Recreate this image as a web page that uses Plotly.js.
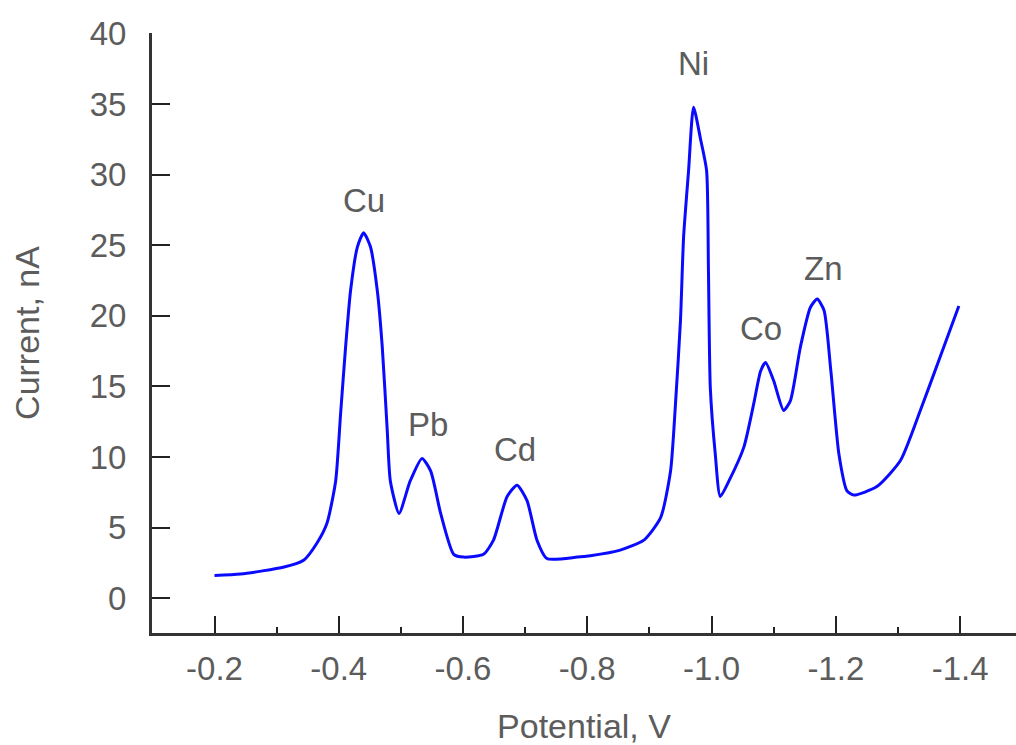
<!DOCTYPE html>
<html>
<head>
<meta charset="utf-8">
<script src="https://cdn.plot.ly/plotly-3.0.1.min.js"></script>
<style>html,body{margin:0;padding:0;background:#fff;}#chart{width:1016px;height:745px;}</style>
</head>
<body>
<div id="chart"></div>
<script>
// Potential (V) and current (nA)
const potential = [-0.200, -0.242, -0.312, -0.344, -0.365, -0.381, -0.395, -0.403, -0.411, -0.419, -0.430, -0.440,
  -0.451, -0.462, -0.470, -0.478, -0.483, -0.497, -0.515, -0.534, -0.548, -0.564, -0.585, -0.601, -0.633, -0.649,
  -0.671, -0.687, -0.703, -0.719, -0.735, -0.784, -0.805, -0.853, -0.891, -0.918, -0.934, -0.942, -0.950, -0.955,
  -0.963, -0.971, -0.982, -0.992, -0.995, -0.998, -1.006, -1.014, -1.028, -1.052, -1.068, -1.079, -1.087, -1.100,
  -1.116, -1.127, -1.143, -1.159, -1.170, -1.181, -1.192, -1.205, -1.218, -1.229, -1.266, -1.304, -1.336, -1.368, -1.398];
const current = [1.6, 1.7, 2.2, 2.7, 3.9, 5.3, 8.3, 13.1, 17.8, 21.8, 24.9, 25.9,
  24.9, 21.8, 17.8, 11.9, 8.3, 6.0, 8.3, 9.9, 9.0, 6.0, 3.1, 2.9, 3.1, 4.1,
  7.2, 8.0, 6.9, 4.1, 2.8, 2.9, 3.0, 3.4, 4.1, 5.7, 9.0, 13.8, 19.7, 25.6,
  30.3, 34.8, 32.6, 30.3, 23.2, 14.9, 10.2, 7.2, 8.3, 10.7, 13.8, 16.1, 16.7, 15.4,
  13.3, 14.0, 17.8, 20.6, 21.2, 20.4, 16.1, 10.2, 7.6, 7.3, 7.9, 9.75, 13.3, 17.1, 20.7];

const peakLabels = ['Cu', 'Pb', 'Cd', 'Ni', 'Co', 'Zn'];
const peakX = [-0.441, -0.544, -0.684, -0.971, -1.079, -1.180];
const peakY = [28.2, 12.3, 10.5, 37.9, 19.1, 23.35];

const xTicks = [-0.2, -0.4, -0.6, -0.8, -1.0, -1.2, -1.4];
const xTickText = ['-0.2', '-0.4', '-0.6', '-0.8', '-1.0', '-1.2', '-1.4'];
const yTicks = [0, 5, 10, 15, 20, 25, 30, 35, 40];

const FONT = 'Liberation Sans, Arial, sans-serif';
const GREY = '#5c5c5c';

const trace = {
  x: potential, y: current, type: 'scatter', mode: 'lines',
  line: {color: '#0a0aff', width: 3, shape: 'spline', smoothing: 0.6},
  hoverinfo: 'skip'
};

const annotations = peakLabels.map((t, i) => ({
  x: peakX[i], y: peakY[i], xref: 'x', yref: 'y', text: t, showarrow: false,
  font: {family: FONT, size: 33, color: GREY}
}));

const layout = {
  width: 1016, height: 745,
  margin: {l: 152, r: 0, t: 33, b: 112},
  paper_bgcolor: '#fff', plot_bgcolor: '#fff',
  showlegend: false,
  font: {family: FONT, color: GREY},
  xaxis: {
    range: [-0.0994, -1.490],
    tickvals: xTicks, ticktext: xTickText,
    ticks: 'inside', ticklen: 17, tickwidth: 2, tickcolor: '#222',
    minor: {ticks: 'inside', ticklen: 6, tickwidth: 2, tickcolor: '#222', dtick: 0.1, tick0: -0.1},
    showline: true, linecolor: '#333', linewidth: 3,
    showgrid: false, zeroline: false,
    tickfont: {family: FONT, size: 33, color: GREY},
    ticklabelstandoff: 4,
    title: {text: 'Potential, V', font: {family: FONT, size: 34, color: GREY}, standoff: 30}
  },
  yaxis: {
    range: [-2.48, 40.06],
    tickvals: yTicks,
    ticks: 'inside', ticklen: 18, tickwidth: 2, tickcolor: '#222',
    showline: true, linecolor: '#333', linewidth: 3,
    showgrid: false, zeroline: false,
    tickfont: {family: FONT, size: 33, color: GREY},
    ticklabelstandoff: 16,
    title: {text: 'Current, nA', font: {family: FONT, size: 34, color: GREY}, standoff: 40}
  },
  annotations: annotations
};

Plotly.newPlot('chart', [trace], layout, {staticPlot: true, displayModeBar: false});
</script>
</body>
</html>
